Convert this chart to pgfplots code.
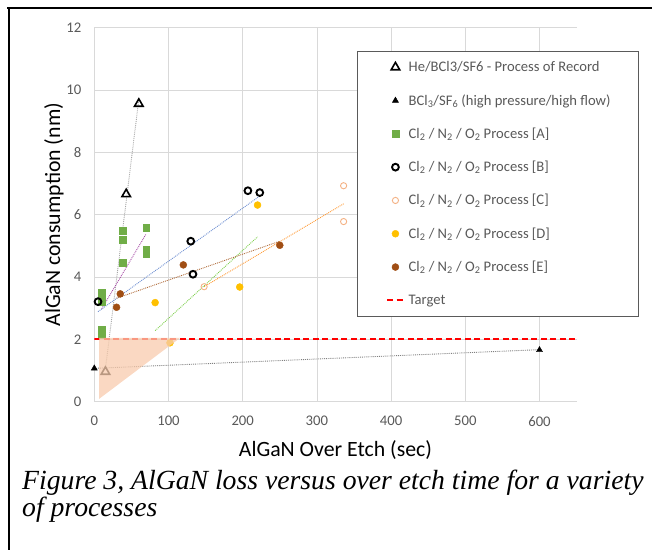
\documentclass[border=0pt]{standalone}
\usepackage{fontspec}
\setmainfont{Carlito}
\newfontfamily\capfont{Liberation Serif}
\usepackage{pgfplots}
\pgfplotsset{compat=1.18}

\definecolor{gridgray}{HTML}{D9D9D9}
\definecolor{tickgray}{HTML}{595959}
\definecolor{legborder}{HTML}{5A5A5A}
\definecolor{grA}{HTML}{70AD47}
\definecolor{orC}{HTML}{F4B183}
\definecolor{yeD}{HTML}{FFC000}
\definecolor{brE}{HTML}{A04E14}
\definecolor{shade}{HTML}{F8CBAD}
\definecolor{targetred}{HTML}{FF0000}

\begin{document}
\begin{tikzpicture}
\useasboundingbox (-94.3pt,-148.3pt) rectangle (557.7pt,401.7pt);
% frame of the figure
\draw[black, line width=2.2pt] (-87pt,393.4pt) -- (557.7pt,393.4pt);
\draw[black, line width=2pt] (-85.3pt,393.4pt) -- (-85.3pt,-148.3pt);

\begin{axis}[
    scale only axis,
    width=482.3pt, height=374pt,
    xmin=0, xmax=650, ymin=0, ymax=12,
    xtick={0,100,...,600}, ytick={0,2,...,12},
    grid=major,
    major grid style={gridgray, line width=0.75pt},
    axis x line*=bottom, axis y line*=left,
    axis line style={gridgray, line width=0.75pt, -},
    major tick length=0pt,
    tick style={draw=none},
    clip mode=individual,
    /pgf/number format/assume math mode=true,
    tick label style={font=\fontsize{14.7}{16}\selectfont, text=tickgray},
    xticklabel style={inner sep=0pt, anchor=north, yshift=-14.3pt},
    yticklabel style={inner sep=0pt, anchor=east, xshift=-12.8pt},
    xlabel={AlGaN Over Etch (sec)},
    ylabel={AlGaN consumption (nm)},
    label style={font=\fontsize{21.8}{24}\selectfont},
    xlabel style={at={(axis description cs:0.5,0)}, anchor=base, yshift=-54.3pt},
    ylabel style={at={(axis description cs:-0.0711,0.5)}, anchor=base},
    legend style={draw=none, fill=none,
        at={(axis description cs:0.6048,0.9393)}, anchor=north west,
        inner sep=0pt, row sep=0pt, column sep=4pt,
        nodes={inner sep=0pt, minimum height=33.3pt,
               font=\fontsize{14.6}{16}\selectfont, text=tickgray},
        cells={anchor=west}},
    legend image code/.code={\draw[mark repeat=2,mark phase=2,#1]
        plot coordinates {(0pt,0pt) (8.3pt,0pt) (16.6pt,0pt)};},
]

% legend frame
\draw[legborder, fill=white, line width=0.9pt]
    (rel axis cs:0.5466,0.2273) rectangle (rel axis cs:1.1284,0.9358);

% trend lines
\addplot[forget plot, color=black!35, densely dotted, line width=0.9pt]
    coordinates {(15,1.05) (60,9.70)};
\addplot[forget plot, color=black!50, densely dotted, line width=0.9pt]
    coordinates {(0,1.07) (600,1.67)};
\addplot[forget plot, color=violet!70, densely dotted, line width=0.9pt]
    coordinates {(10,2.98) (70,5.39)};
\addplot[forget plot, color=cyan!40!blue!60, densely dotted, line width=0.9pt]
    coordinates {(5,2.89) (223,6.60)};
\addplot[forget plot, color=orange!80, densely dotted, line width=0.9pt]
    coordinates {(148,3.69) (336,6.35)};
\addplot[forget plot, color=green!45!olive!70, densely dotted, line width=0.9pt]
    coordinates {(82,2.28) (220,5.29)};
\addplot[forget plot, color=brE!85, densely dotted, line width=0.9pt]
    coordinates {(30,3.32) (250,5.15)};

% data
\addplot[only marks, mark=triangle, mark size=4.9pt, draw=black,
    mark options={line width=1.6pt}]
    coordinates {(15,0.96) (43,6.66) (60,9.56)};
\addlegendentry{He/BCl3/SF6 - Process of Record}

\addplot[only marks, mark=triangle*, mark size=3.5pt, black]
    coordinates {(0,1.07) (600,1.66)};
\addlegendentry{BCl\textsubscript{3}/SF\textsubscript{6} (high pressure/high flow)}

\addplot[only marks, mark=square*, mark size=3.4pt, grA]
    coordinates {(10,3.50) (10,3.35) (10,3.20) (10,2.30) (10,2.15)
                 (38,5.48) (38,5.19) (38,4.47)
                 (70,5.58) (70,4.89) (70,4.76)};
\addlegendentry{Cl\textsubscript{2} / N\textsubscript{2} / O\textsubscript{2} Process [A]}

\addplot[only marks, mark=o, mark size=3.4pt, black,
    mark options={line width=1.9pt}]
    coordinates {(5,3.21) (130,5.15) (133,4.09) (207,6.77) (223,6.71)};
\addlegendentry{Cl\textsubscript{2} / N\textsubscript{2} / O\textsubscript{2} Process [B]}

\addplot[only marks, mark=o, mark size=3.1pt, orC,
    mark options={line width=0.9pt}]
    coordinates {(148,3.69) (336,6.93) (336,5.78)};
\addlegendentry{Cl\textsubscript{2} / N\textsubscript{2} / O\textsubscript{2} Process [C]}

\addplot[only marks, mark=*, mark size=3.5pt, yeD]
    coordinates {(102,1.89) (82,3.18) (196,3.68) (220,6.31)};
\addlegendentry{Cl\textsubscript{2} / N\textsubscript{2} / O\textsubscript{2} Process [D]}

\addplot[only marks, mark=*, mark size=3.5pt, brE]
    coordinates {(30,3.03) (35,3.46) (120,4.39) (250,5.02)};
\addlegendentry{Cl\textsubscript{2} / N\textsubscript{2} / O\textsubscript{2} Process [E]}

% target line (y = 2 nm)
\addplot[color=targetred, dash pattern=on 6pt off 3.5pt, line width=1.9pt]
    coordinates {(0,2) (650,2)};
\addlegendentry{Target}

% shaded target region
\addplot[forget plot, draw=none, fill=shade, fill opacity=0.75]
    coordinates {(6.4,0.09) (6.4,2.05) (115.7,2.05)} -- cycle;
\end{axis}

% caption
\node[anchor=base west, inner sep=0pt,
      font=\capfont\itshape\fontsize{27.7}{30}\selectfont]
    at (-72.3pt,-87.3pt) {Figure 3, AlGaN loss versus over etch time for a variety};
\node[anchor=base west, inner sep=0pt,
      font=\capfont\itshape\fontsize{27.7}{30}\selectfont]
    at (-72.3pt,-114.3pt) {of processes};
\end{tikzpicture}
\end{document}
